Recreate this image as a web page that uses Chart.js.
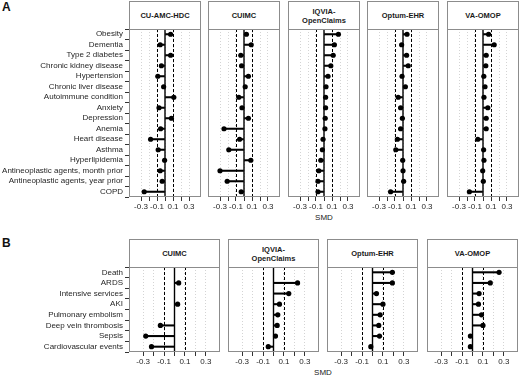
<!DOCTYPE html>
<html>
<head>
<meta charset="utf-8">
<script src="https://cdn.jsdelivr.net/npm/chart.js@4.4.0/dist/chart.umd.min.js"></script>
<style>
    body { margin: 0; background: #fff; width: 520px; height: 377px; position: relative; overflow: hidden;
           font-family: "Liberation Sans", Arial, sans-serif; }
    canvas { position: absolute; }
    .strip { position: absolute; box-sizing: border-box; border: 1px solid #8c8c8c; background: #fff;
             display: flex; align-items: center; justify-content: center; text-align: center;
             font-weight: bold; font-size: 7.5px; line-height: 9px; color: #1a1a1a; }
    .tag { position: absolute; font-weight: bold; font-size: 12px; line-height: 14px; color: #111; }
    .xtitle { position: absolute; font-size: 8px; line-height: 10px; color: #222; transform: translateX(-50%); }
</style>
</head>
<body>
<div class="tag" style="left:2px;top:0px;">A</div>
<div class="tag" style="left:2px;top:236px;">B</div>
<div class="xtitle" style="left:324px;top:213px;">SMD</div>
<div class="xtitle" style="left:323px;top:368px;">SMD</div>

<script>
// ---- Data ----
const panelACategories = [
    'Obesity', 'Dementia', 'Type 2 diabetes', 'Chronic kidney disease', 'Hypertension',
    'Chronic liver disease', 'Autoimmune condition', 'Anxiety', 'Depression', 'Anemia',
    'Heart disease', 'Asthma', 'Hyperlipidemia', 'Antineoplastic agents, month prior',
    'Antineoplastic agents, year prior', 'COPD'
];
const panelASites = ['CU-AMC-HDC', 'CUIMC', 'IQVIA-\nOpenClaims', 'Optum-EHR', 'VA-OMOP'];
const cuAmcHdcA = [0.07, -0.06, 0.07, -0.045, -0.09, -0.017, 0.11, -0.075, 0.08, -0.055, -0.18, -0.085, -0.005, -0.06, -0.035, -0.26];
const cuimcA = [0.03, 0.09, -0.04, -0.03, 0.055, 0.015, -0.065, -0.025, 0.055, -0.25, -0.055, -0.19, 0.085, -0.3, -0.21, -0.035];
const iqviaA = [0.18, 0.13, 0.115, 0.085, 0.05, 0.025, 0.02, 0.02, 0.015, 0.012, -0.012, -0.02, -0.04, -0.065, -0.075, -0.075];
const optumA = [0.05, -0.017, 0.045, 0.065, -0.012, 0.03, -0.06, -0.03, -0.008, -0.03, -0.07, -0.09, -0.004, 0, 0.008, -0.155];
const vaA = [0.07, 0.14, 0.04, 0.035, 0.01, 0.025, 0.012, 0.06, 0.04, 0.04, -0.065, 0.008, 0.012, -0.004, 0.004, -0.17];

const panelBCategories = [
    'Death', 'ARDS', 'Intensive services', 'AKI', 'Pulmonary embolism',
    'Deep vein thrombosis', 'Sepsis', 'Cardiovascular events'
];
const panelBSites = ['CUIMC', 'IQVIA-\nOpenClaims', 'Optum-EHR', 'VA-OMOP'];
const cuimcB = [null, 0.04, null, 0.03, null, -0.135, -0.275, -0.22];
const iqviaB = [null, 0.23, 0.146, 0.057, 0.041, 0.035, 0.019, -0.05];
const optumB = [0.19, 0.19, 0.038, 0.1, 0.073, 0.06, 0.067, -0.016];
const vaB = [0.254, 0.17, 0.063, 0.057, 0.086, 0.1, -0.02, -0.02];

const xTickValues = [-0.3, -0.2, -0.1, 0, 0.1, 0.2, 0.3];
const xTickLabels = ['-0.3', '', '-0.1', '', '0.1', '', '0.3'];
const refLines = [-0.1, 0.1];

const FONT = '"Liberation Sans", Arial, sans-serif';
const TEXT_COLOR = '#262626';

/**
 * Dashed threshold lines, zero line and panel border
 */
const panelPlugin = {
    id: 'panelDecor',
    beforeDatasetsDraw(chart) {
        const { ctx, chartArea: a } = chart;
        const x = chart.scales.x;
        ctx.save();
        ctx.strokeStyle = '#000';
        ctx.lineWidth = 1;
        ctx.setLineDash([3, 2]);
        refLines.forEach(v => {
            const px = Math.round(x.getPixelForValue(v)) + 0.5;
            ctx.beginPath();
            ctx.moveTo(px, a.top);
            ctx.lineTo(px, a.bottom);
            ctx.stroke();
        });
        ctx.setLineDash([]);
        ctx.lineWidth = 1.4;
        const zx = x.getPixelForValue(0);
        ctx.beginPath();
        ctx.moveTo(zx, a.top);
        ctx.lineTo(zx, a.bottom);
        ctx.stroke();
        ctx.restore();
    },
    afterDraw(chart) {
        const { ctx, chartArea: a } = chart;
        ctx.save();
        ctx.strokeStyle = '#8c8c8c';
        ctx.lineWidth = 1;
        ctx.strokeRect(a.left + 0.5, a.top + 0.5, a.right - a.left - 1, a.bottom - a.top - 1);
        ctx.restore();
    }
};

/**
 * Build one facet (strip + lollipop panel)
 */
function makeFacet({ site, categories, values, left, width, top, height, stripTop, withLabels, xRange }) {
    const yAxisWidth = withLabels ? 129 : 0;
    const canvas = document.createElement('canvas');
    canvas.width = width + yAxisWidth;
    canvas.height = height + 18;
    canvas.style.left = (left - yAxisWidth) + 'px';
    canvas.style.top = top + 'px';
    document.body.appendChild(canvas);

    const strip = document.createElement('div');
    strip.className = 'strip';
    strip.style.left = left + 'px';
    strip.style.top = stripTop + 'px';
    strip.style.width = width + 'px';
    strip.style.height = (top - stripTop + 1) + 'px';
    strip.innerText = site;
    document.body.appendChild(strip);

    new Chart(canvas.getContext('2d'), {
        type: 'bar',
        data: {
            labels: categories,
            datasets: [
                {
                    type: 'line',
                    indexAxis: 'y',
                    data: values,
                    showLine: false,
                    pointRadius: 2.6,
                    pointHoverRadius: 2.6,
                    pointBackgroundColor: '#000',
                    pointBorderWidth: 0,
                    order: 0,
                },
                {
                    type: 'bar',
                    indexAxis: 'y',
                    data: values,
                    backgroundColor: '#000',
                    borderWidth: 0,
                    barThickness: 1.4,
                    order: 1,
                }
            ]
        },
        options: {
            indexAxis: 'y',
            responsive: false,
            animation: false,
            devicePixelRatio: 1,
            layout: { padding: 0, autoPadding: false },
            plugins: { legend: { display: false }, tooltip: { enabled: false } },
            scales: {
                x: {
                    type: 'linear',
                    min: -xRange,
                    max: xRange,
                    afterBuildTicks: scale => {
                        scale.ticks = xTickValues.map(v => ({ value: v }));
                    },
                    afterFit: scale => {
                        scale.height = 18;
                        scale.paddingLeft = 0;
                        scale.paddingRight = 0;
                    },
                    ticks: {
                        autoSkip: false,
                        maxRotation: 0,
                        padding: 1,
                        color: TEXT_COLOR,
                        font: { family: FONT, size: 8 },
                        callback: (value) => xTickLabels[xTickValues.findIndex(t => Math.abs(t - value) < 1e-6)] || '',
                    },
                    grid: {
                        color: '#d4d4d4',
                        lineWidth: 1,
                        tickColor: '#333',
                        tickLength: 4,
                        tickBorderDash: [],
                    },
                    border: { display: false, dash: [1, 2] },
                },
                y: {
                    type: 'category',
                    display: withLabels,
                    offset: true,
                    afterFit: scale => {
                        scale.width = yAxisWidth;
                        scale.paddingTop = 0;
                        scale.paddingBottom = 0;
                    },
                    ticks: {
                        autoSkip: false,
                        padding: 2,
                        color: TEXT_COLOR,
                        font: { family: FONT, size: 8 },
                    },
                    grid: {
                        drawOnChartArea: false,
                        tickColor: '#333',
                        tickLength: 4,
                    },
                    border: { display: false },
                }
            }
        },
        plugins: [panelPlugin]
    });
}

// ---- Panel A ----
const panelAValues = [cuAmcHdcA, cuimcA, iqviaA, optumA, vaA];
const panelALefts = [129, 208, 288, 367, 447];
panelASites.forEach((site, i) => {
    makeFacet({
        site, categories: panelACategories, values: panelAValues[i],
        left: panelALefts[i], width: 72, top: 29, height: 168, stripTop: 1,
        withLabels: i === 0, xRange: 0.45,
    });
});

// ---- Panel B ----
const panelBValues = [cuimcB, iqviaB, optumB, vaB];
const panelBLefts = [129, 228, 327, 427];
panelBSites.forEach((site, i) => {
    makeFacet({
        site, categories: panelBCategories, values: panelBValues[i],
        left: panelBLefts[i], width: 91, top: 267, height: 85, stripTop: 239,
        withLabels: i === 0, xRange: 0.435,
    });
});
</script>
</body>
</html>
